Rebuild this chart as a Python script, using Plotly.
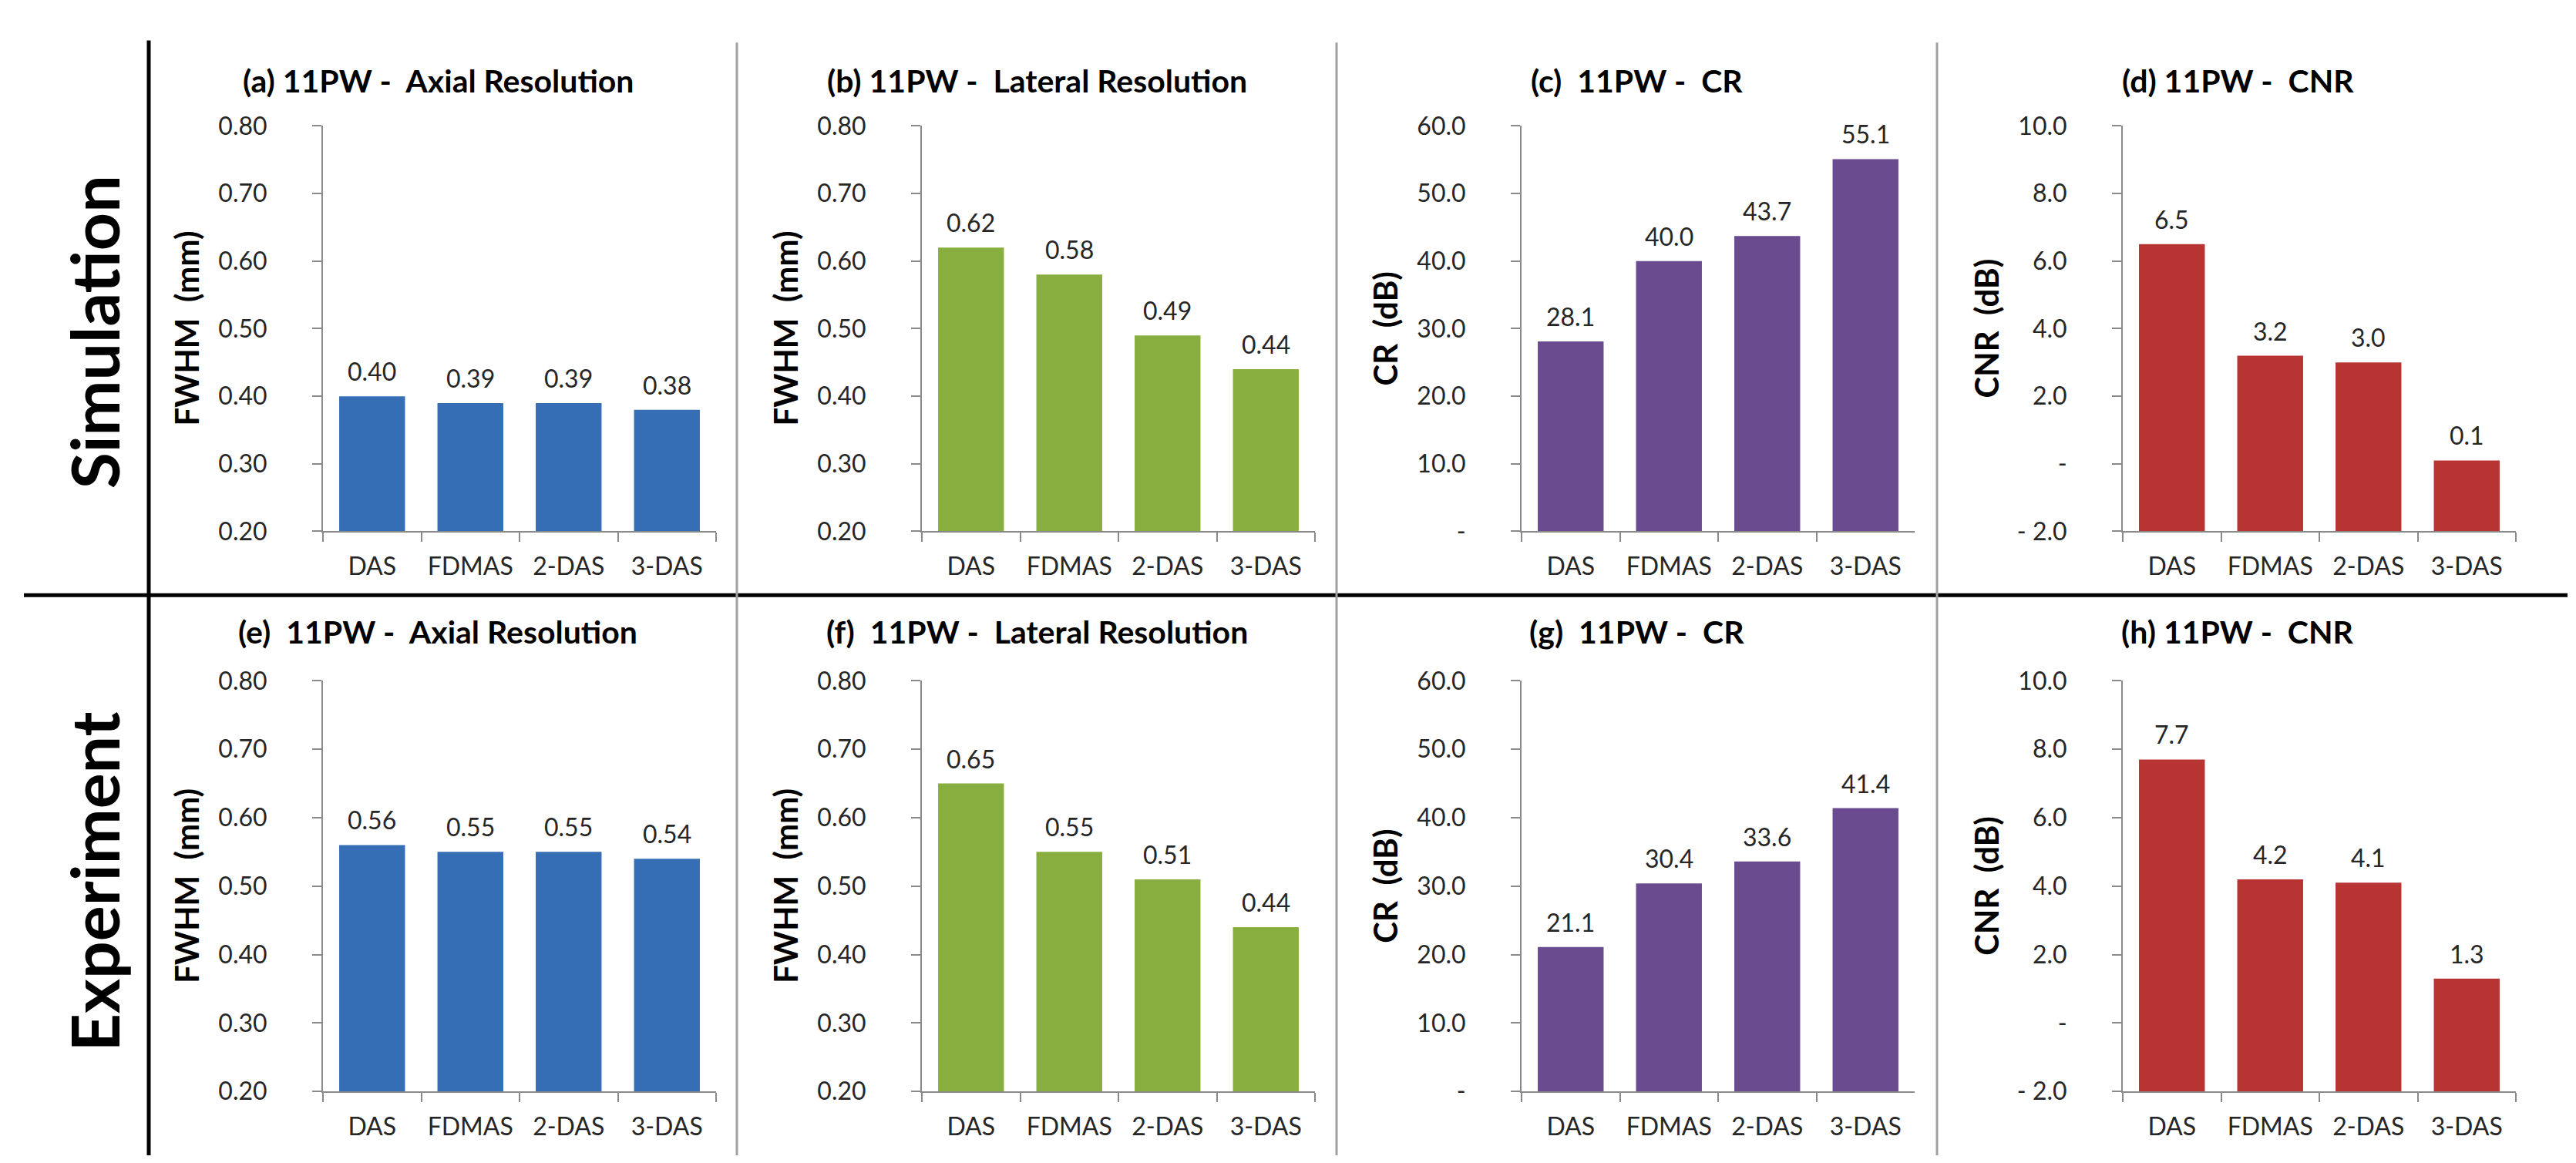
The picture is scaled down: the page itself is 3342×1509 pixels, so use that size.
import plotly.graph_objects as go

W, H = 3342, 1509

categories = ["DAS", "FDMAS", "2-DAS", "3-DAS"]

# Simulation row
sim_axial = [0.40, 0.39, 0.39, 0.38]
sim_lateral = [0.62, 0.58, 0.49, 0.44]
sim_cr = [28.1, 40.0, 43.7, 55.1]
sim_cnr = [6.5, 3.2, 3.0, 0.1]
# Experiment row
exp_axial = [0.56, 0.55, 0.55, 0.54]
exp_lateral = [0.65, 0.55, 0.51, 0.44]
exp_cr = [21.1, 30.4, 33.6, 41.4]
exp_cnr = [7.7, 4.2, 4.1, 1.3]

titles = ["(a) 11PW -  Axial Resolution", "(b) 11PW -  Lateral Resolution",
          "(c)  11PW -  CR", "(d) 11PW -  CNR",
          "(e)  11PW -  Axial Resolution", "(f)  11PW -  Lateral Resolution",
          "(g)  11PW -  CR", "(h) 11PW -  CNR"]
ytitles = ["FWHM  (mm)", "FWHM  (mm)", "CR  (dB)", "CNR  (dB)"]

fwhm_ticks = [0.20, 0.30, 0.40, 0.50, 0.60, 0.70, 0.80]
fwhm_text = ["0.20", "0.30", "0.40", "0.50", "0.60", "0.70", "0.80"]
cr_ticks = [0, 10, 20, 30, 40, 50, 60]
cr_text = ["-", "10.0", "20.0", "30.0", "40.0", "50.0", "60.0"]
cnr_ticks = [-2, 0, 2, 4, 6, 8, 10]
cnr_text = ["- 2.0", "-", "2.0", "4.0", "6.0", "8.0", "10.0"]

colors = ["#356EB4", "#89AE40", "#6A4B8F", "#B83432"]
FONT = "Lato"
NB = "\u00a0"

panels = [
    (sim_axial, fwhm_ticks, fwhm_text, "{:.2f}"),
    (sim_lateral, fwhm_ticks, fwhm_text, "{:.2f}"),
    (sim_cr, cr_ticks, cr_text, "{:.1f}"),
    (sim_cnr, cnr_ticks, cnr_text, "{:.1f}"),
    (exp_axial, fwhm_ticks, fwhm_text, "{:.2f}"),
    (exp_lateral, fwhm_ticks, fwhm_text, "{:.2f}"),
    (exp_cr, cr_ticks, cr_text, "{:.1f}"),
    (exp_cnr, cnr_ticks, cnr_text, "{:.1f}"),
]

# pixel layout
axis_left = [411, 1188, 1966, 2746]
plot_w = 510
rows_px = [(138, 678), (877, 1424)]
col_centers = [560, 1337, 2115, 2895]
title_y = [77, 811]

def px(x):
    return x / W

def py(y):
    return 1 - y / H

fig = go.Figure()
layout = dict(width=W, height=H, margin=dict(l=0, r=0, t=0, b=0),
              paper_bgcolor="white", plot_bgcolor="white", showlegend=False,
              font=dict(family=FONT, color="#262626"))
annotations = []
axis_color = "#8A8A8A"

for i, (vals, tv, tt, fmt) in enumerate(panels):
    r, c = divmod(i, 4)
    n = i + 1
    xa = "x" if n == 1 else f"x{n}"
    ya = "y" if n == 1 else f"y{n}"
    lo = tv[0]
    base = lo if lo < 0 else 0
    fig.add_trace(go.Bar(
        x=categories, y=[v - base for v in vals], base=base,
        xaxis=xa, yaxis=ya, marker=dict(color=colors[c], line=dict(width=0)),
        width=0.67, hoverinfo="skip", cliponaxis=True,
    ))
    for cat, v in zip(categories, vals):
        annotations.append(dict(text=fmt.format(v), x=cat, y=v, xref=xa, yref=ya,
                                showarrow=False, xanchor="center", yanchor="bottom",
                                yshift=11, font=dict(size=32, color="#262626", family=FONT)))
    y0, y1 = rows_px[r]
    xkey = "xaxis" if n == 1 else f"xaxis{n}"
    ykey = "yaxis" if n == 1 else f"yaxis{n}"
    layout[xkey] = dict(domain=[px(axis_left[c]), px(axis_left[c] + plot_w)], anchor=ya,
                        type="category", tickson="boundaries", ticks="outside", ticklen=12,
                        tickwidth=2, tickcolor=axis_color, showline=True, linecolor=axis_color,
                        linewidth=2, showgrid=False, zeroline=False,
                        tickfont=dict(size=32, color="#262626", family=FONT),
                        ticklabelstandoff=16, range=[-0.5, 3.5])
    layout[ykey] = dict(domain=[py(y1), py(y0)], anchor=xa, range=[tv[0], tv[-1]],
                        tickvals=tv, ticktext=tt, ticks="outside", ticklen=12, tickwidth=2,
                        tickcolor=axis_color, showline=True, linecolor=axis_color, linewidth=2,
                        showgrid=False, zeroline=False,
                        tickfont=dict(size=32, color="#262626", family=FONT),
                        ticklabelstandoff=52)
    annotations.append(dict(text=f"<b>{titles[i].replace(' ', NB)}</b>", x=px(col_centers[c]),
                            y=py(title_y[r]), xref="paper", yref="paper", showarrow=False,
                            xanchor="center", yanchor="middle",
                            font=dict(size=41, color="black", family=FONT)))
    annotations.append(dict(text=f"<b>{ytitles[c].replace(' ', NB)}</b>", x=px(axis_left[c] - 177),
                            y=py((y0 + y1) / 2), xref="paper", yref="paper", showarrow=False,
                            textangle=-90, xanchor="center", yanchor="middle",
                            font=dict(size=42, color="black", family=FONT)))

annotations.append(dict(text="<b>Simulation</b>", x=px(113), y=py(413), xref="paper", yref="paper",
                        showarrow=False, textangle=-90, xanchor="center", yanchor="middle",
                        font=dict(size=86, color="black", family=FONT)))
annotations.append(dict(text="<b>Experiment</b>", x=px(113), y=py(1145), xref="paper", yref="paper",
                        showarrow=False, textangle=-90, xanchor="center", yanchor="middle",
                        font=dict(size=86, color="black", family=FONT)))

shapes = [
    dict(type="line", xref="paper", yref="paper", x0=px(185), x1=px(185), y0=py(24), y1=0,
         line=dict(color="black", width=5)),
    dict(type="line", xref="paper", yref="paper", x0=px(23), x1=px(3323), y0=py(763), y1=py(763),
         line=dict(color="black", width=5)),
]
for gx in [948, 1726, 2505]:
    shapes.append(dict(type="line", xref="paper", yref="paper", x0=px(gx), x1=px(gx), y0=py(27),
                       y1=0, line=dict(color="#A0A0A0", width=3)))

layout["annotations"] = annotations
layout["shapes"] = shapes
layout["bargap"] = 0.33
fig.update_layout(**layout)
fig.write_html("out.html")
